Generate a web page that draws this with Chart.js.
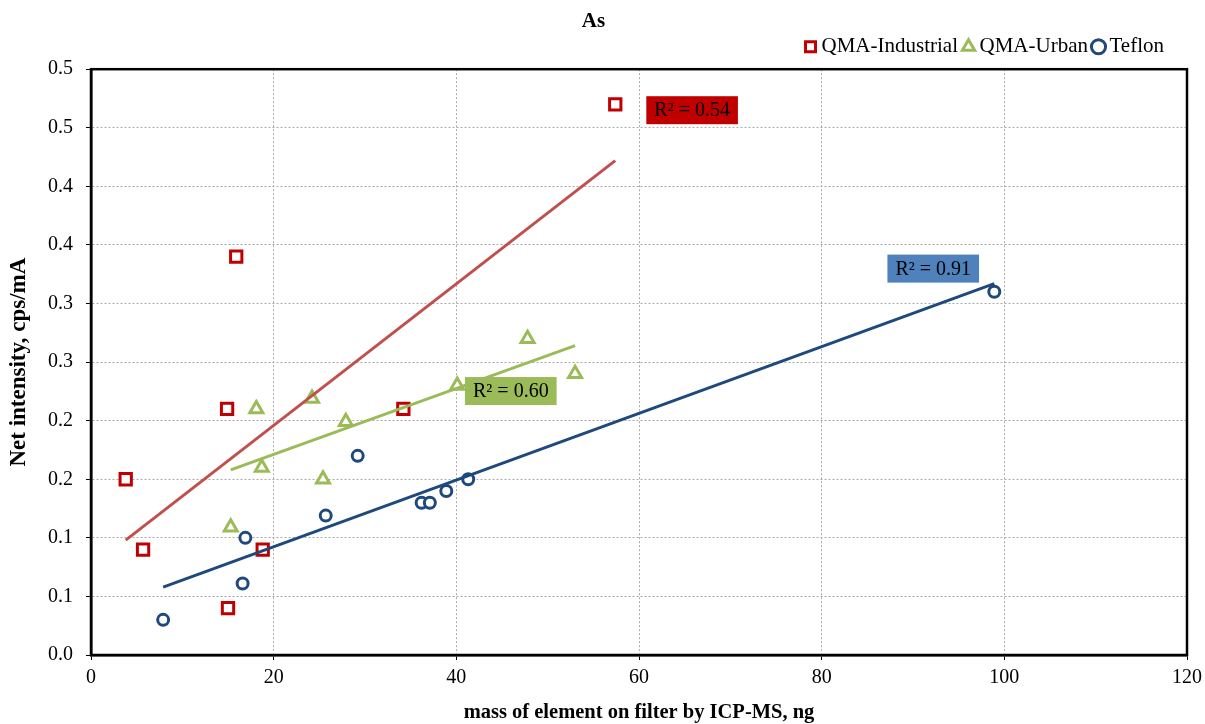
<!DOCTYPE html>
<html>
<head>
<meta charset="utf-8">
<script src="https://cdn.jsdelivr.net/npm/chart.js@4.4.1/dist/chart.umd.min.js"></script>
<style>
  html, body { margin: 0; padding: 0; background: #fff; }
  #wrap { width: 1205px; height: 724px; }
</style>
</head>
<body>
<div id="wrap"><canvas id="asChart" width="1205" height="724"></canvas></div>
<script>
// ====== Data ======
const industrialX = [3.8, 5.7, 15.0, 14.9, 15.9, 18.8, 34.2, 57.4];
const industrialY = [0.150, 0.090, 0.040, 0.210, 0.340, 0.090, 0.210, 0.470];
const urbanX = [15.3, 18.7, 18.1, 25.4, 24.2, 27.9, 40.1, 47.8, 53.0];
const urbanY = [0.109, 0.160, 0.210, 0.150, 0.219, 0.199, 0.230, 0.270, 0.240];
const teflonX = [7.9, 16.6, 16.9, 25.7, 29.2, 36.2, 37.1, 38.9, 41.3, 98.9];
const teflonY = [0.030, 0.061, 0.100, 0.119, 0.170, 0.130, 0.130, 0.140, 0.150, 0.310];

// trend line end points
const industrialTrendX = [3.8, 57.4];
const industrialTrendY = [0.098, 0.422];
const urbanTrendX = [15.3, 53.0];
const urbanTrendY = [0.158, 0.264];
const teflonTrendX = [7.9, 98.9];
const teflonTrendY = [0.058, 0.317];

const r2Labels = ["R\u00b2 = 0.54", "R\u00b2 = 0.60", "R\u00b2 = 0.91"];
const yTickLabels = ["0.0", "0.1", "0.1", "0.2", "0.2", "0.3", "0.3", "0.4", "0.4", "0.5", "0.5"];

const toPoints = (xs, ys) => xs.map((x, i) => ({ x, y: ys[i] }));

const FONT = "'Liberation Serif', 'DejaVu Serif', serif";

// ====== Plugins ======
const frameBox = {
  id: "frameBox",
  afterDraw(chart) {
    const { ctx, chartArea: a } = chart;
    ctx.save();
    ctx.strokeStyle = "#000";
    ctx.lineWidth = 2.5;
    ctx.strokeRect(a.left, a.top, a.right - a.left, a.bottom - a.top);
    ctx.restore();
  },
};

// nudge the legend a little up and to the left, like the original
const legendNudge = {
  id: "legendNudge",
  afterLayout(chart) {
    const l = chart.legend;
    if (!l) return;
    l.top -= 2;
    l.bottom -= 2;
    l.left -= 13;
    l.right -= 13;
  },
};

const r2Boxes = {
  id: "r2Boxes",
  afterDatasetsDraw(chart, args, opts) {
    const { ctx, scales } = chart;
    ctx.save();
    ctx.font = "20px " + FONT;
    ctx.textBaseline = "middle";
    opts.items.forEach((it) => {
      const left = scales.x.getPixelForValue(it.x);
      const cy = scales.y.getPixelForValue(it.y);
      const w = ctx.measureText(it.text).width + 16;
      const h = 28;
      ctx.fillStyle = it.bg;
      ctx.fillRect(left, cy - h / 2, w, h);
      ctx.fillStyle = "#000";
      ctx.textAlign = "left";
      ctx.fillText(it.text, left + 8, cy + 1);
    });
    ctx.restore();
  },
};

// ====== Chart Setup ======
const markerDs = (label, pts, color, style, radius) => ({
  label,
  data: pts,
  showLine: false,
  pointStyle: style,
  pointRadius: radius,
  pointHoverRadius: radius,
  pointBorderWidth: 3,
  borderColor: color,
  borderWidth: 3,
  backgroundColor: "#fff",
  pointBackgroundColor: "#fff",
  pointBorderColor: color,
});

const trendDs = (label, pts, color) => ({
  label,
  data: pts,
  showLine: true,
  pointRadius: 0,
  borderColor: color,
  borderWidth: 3,
  fill: false,
  isTrend: true,
});

const ctx = document.getElementById("asChart").getContext("2d");
new Chart(ctx, {
  type: "scatter",
  data: {
    datasets: [
      trendDs("trend-ind", toPoints(industrialTrendX, industrialTrendY), "#C0504D"),
      trendDs("trend-urb", toPoints(urbanTrendX, urbanTrendY), "#9BBB59"),
      trendDs("trend-tef", toPoints(teflonTrendX, teflonTrendY), "#1F497D"),
      markerDs("QMA-Industrial", toPoints(industrialX, industrialY), "#C00000", "rect", 8),
      markerDs("QMA-Urban", toPoints(urbanX, urbanY), "#9BBB59", "triangle", 7.5),
      markerDs("Teflon", toPoints(teflonX, teflonY), "#1F497D", "circle", 5.5),
    ],
  },
  options: {
    responsive: false,
    animation: false,
    layout: { padding: { left: 0, right: 18, top: 0, bottom: 0 } },
    plugins: {
      title: {
        display: true,
        text: "As",
        color: "#000",
        font: { family: FONT, size: 21, weight: "bold" },
        padding: { top: 9, bottom: -6 },
      },
      legend: {
        display: true,
        position: "top",
        align: "end",
        labels: {
          color: "#000",
          font: { family: FONT, size: 21 },
          usePointStyle: true,
          boxWidth: 1,
          boxHeight: 10,
          padding: 10,
          filter: (item, data) => !data.datasets[item.datasetIndex].isTrend,
        },
      },
      tooltip: { enabled: false },
      r2Boxes: {
        items: [
          { text: r2Labels[0], x: 60.8, y: 0.465, bg: "#C00000" },
          { text: r2Labels[1], x: 40.95, y: 0.2253, bg: "#9BBB59" },
          { text: r2Labels[2], x: 87.2, y: 0.3298, bg: "#4F81BD" },
        ],
      },
    },
    scales: {
      x: {
        type: "linear",
        min: 0,
        max: 120,
        ticks: {
          stepSize: 20,
          color: "#000",
          font: { family: FONT, size: 20 },
          padding: 6,
        },
        grid: {
          color: "#aaaaaa",
          tickColor: "#000",
          tickLength: 5,
          drawTicks: true,
        },
        border: { color: "#000", width: 2.5, dash: [2, 2] },
        title: {
          display: true,
          text: "mass of element on filter by ICP-MS, ng",
          color: "#000",
          font: { family: FONT, size: 20.5, weight: "bold" },
          padding: { top: 6, bottom: -1 },
        },
        afterFit: (scale) => {
          scale.height = 69;
          scale.paddingLeft = 0;
          scale.paddingRight = 0;
        },
      },
      y: {
        type: "linear",
        min: 0,
        max: 0.5,
        ticks: {
          stepSize: 0.05,
          color: "#000",
          font: { family: FONT, size: 20 },
          padding: 13,
          callback: (v, i) => yTickLabels[i],
        },
        grid: {
          color: "#aaaaaa",
          tickColor: "#000",
          tickLength: 5,
        },
        border: { color: "#000", width: 2.5, dash: [2, 2] },
        title: {
          display: true,
          text: "Net intensity, cps/mA",
          color: "#000",
          font: { family: FONT, size: 23, weight: "bold" },
          padding: { top: 5, bottom: 0 },
        },
        afterFit: (scale) => { scale.width = 91; },
      },
    },
  },
  plugins: [r2Boxes, frameBox, legendNudge],
});
</script>
</body>
</html>
